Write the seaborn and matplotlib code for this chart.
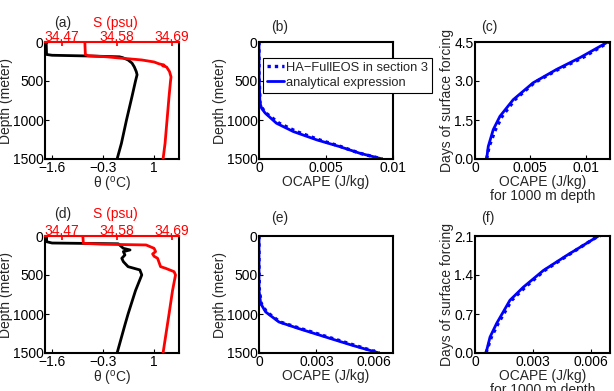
import numpy as np
import pandas as pd
import matplotlib
matplotlib.use("Agg")
import matplotlib.pyplot as plt
import seaborn as sns

# ---------------- data ----------------
# panel (a): profiles
a_theta_depth = [0, 5, 160, 170, 180, 190, 200, 230, 270, 320, 380, 420, 500, 700, 1000, 1300, 1500]
a_theta = [-1.72, -1.75, -1.74, -1.6, -0.6, 0.12, 0.2, 0.34, 0.44, 0.5, 0.55, 0.57, 0.53, 0.44, 0.3, 0.17, 0.06]
a_sal_depth = [0, 5, 160, 175, 190, 205, 230, 256, 280, 295, 305, 320, 380, 448, 500, 700, 1000, 1300, 1500]
a_sal = [34.516, 34.516, 34.517, 34.522, 34.56, 34.585, 34.63, 34.655, 34.665, 34.675, 34.672, 34.68, 34.686, 34.689, 34.688, 34.685, 34.681, 34.677, 34.673]

# panel (d): profiles
d_theta_depth = [0, 5, 73, 90, 100, 158, 179, 200, 243, 286, 329, 393, 435, 499, 700, 1000, 1139, 1500]
d_theta = [-1.72, -1.74, -1.74, -1.6, 0.09, 0.22, 0.39, 0.22, 0.26, 0.18, 0.22, 0.34, 0.64, 0.69, 0.53, 0.34, 0.26, 0.06]
d_sal_depth = [0, 5, 94, 105, 115, 158, 200, 230, 260, 286, 393, 414, 457, 499, 700, 1000, 1500]
d_sal = [34.512, 34.512, 34.513, 34.55, 34.639, 34.655, 34.658, 34.652, 34.655, 34.662, 34.668, 34.678, 34.695, 34.698, 34.692, 34.685, 34.673]

# panel (b): OCAPE vs depth
b_depth = [0, 400, 781, 850, 909, 1041, 1148, 1254, 1340, 1425, 1500]
b_ana = [0.0, 0.0, 0.00007, 0.0002, 0.00045, 0.0013, 0.00256, 0.0043, 0.006, 0.0075, 0.0092]
b_ha = [0.0, 0.0, 0.00008, 0.00025, 0.0005, 0.0015, 0.0028, 0.0045, 0.0061, 0.0075, 0.0092]

# panel (c): days vs OCAPE
c_days = [0.0, 0.485, 1.13, 1.64, 2.28, 2.93, 3.44, 3.89, 4.5]
c_ana = [0.00105, 0.0012, 0.00165, 0.00225, 0.00345, 0.00525, 0.00735, 0.00945, 0.0120]
c_ha = [0.00105, 0.00128, 0.00185, 0.00245, 0.0036, 0.00535, 0.0075, 0.0097, 0.0121]

# panel (e): OCAPE vs depth
e_depth = [0, 400, 696, 867, 974, 1102, 1188, 1295, 1401, 1500]
e_ana = [0.0, 0.0, 0.0, 0.00009, 0.00035, 0.00104, 0.00209, 0.00348, 0.00487, 0.00627]
e_ha = [0.0, 0.0, 0.00002, 0.00012, 0.0004, 0.0011, 0.0022, 0.0036, 0.0050, 0.0063]

# panel (f): days vs OCAPE
f_days = [0.0, 0.287, 0.53, 0.946, 1.18, 1.48, 1.75, 2.08, 2.1]
f_ana = [0.00057, 0.00078, 0.00112, 0.00181, 0.0025, 0.00354, 0.00475, 0.00631, 0.0064]
f_ha = [0.00057, 0.00085, 0.0012, 0.0019, 0.0026, 0.0036, 0.0048, 0.0063, 0.0065]

# ---------------- style ----------------
sns.set_theme(style="white")
plt.rcParams["font.family"] = ["Liberation Sans", "DejaVu Sans"]
plt.rcParams["mathtext.fontset"] = "custom"
plt.rcParams["mathtext.rm"] = "Liberation Sans"
plt.rcParams["xtick.direction"] = "in"
plt.rcParams["ytick.direction"] = "in"
plt.rcParams["xtick.major.size"] = 3
plt.rcParams["ytick.major.size"] = 3
plt.rcParams["xtick.major.pad"] = 1.5
plt.rcParams["ytick.major.pad"] = 1.0
FS = 10

W, H = 614, 391
fig = plt.figure(figsize=(W / 100, H / 100), dpi=100)


def box(l, t, r, b):
    return [l / W, 1 - b / H, (r - l) / W, (b - t) / H]


def style_axes(ax):
    for s in ax.spines.values():
        s.set_linewidth(1.5)
        s.set_color("black")
    ax.tick_params(labelsize=FS, length=3, width=0.8, colors="black")
    ax.tick_params(which="both", top=False, right=False, bottom=True, left=True)


def profile_panel(rect, th_d, th, s_d, s, label, lab_xy):
    ax = fig.add_axes(box(*rect))
    sns.lineplot(x=th, y=th_d, orient="y", sort=False, estimator=None,
                 color="black", lw=2.0, ax=ax)
    ax.set_xlim(-1.78, 1.64)
    ax.set_ylim(1500, 0)
    ax.set_xticks([-1.6, -0.3, 1])
    ax.set_xticklabels(["\u22121.6", "\u22120.3", "1"])
    ax.set_yticks([0, 500, 1000, 1500])
    ax.set_xlabel("\u03b8 ($^{\\rm o}$C)", fontsize=FS, labelpad=0)
    ax.set_ylabel("Depth (meter)", fontsize=FS, labelpad=0)
    style_axes(ax)
    ax2 = ax.twiny()
    sns.lineplot(x=s, y=s_d, orient="y", sort=False, estimator=None,
                 color="red", lw=2.0, ax=ax2)
    ax2.set_xlim(34.436, 34.705)
    ax2.set_ylim(1500, 0)
    ax2.set_xticks([34.47, 34.58, 34.69])
    ax2.set_xticklabels(["34.47", "34.58", "34.69"])
    ax2.tick_params(axis="x", colors="red", labelsize=FS, direction="in", length=3, pad=-1.5)
    ax2.set_xlabel("")
    ax2.set_ylabel("")
    for k in ["left", "right", "bottom"]:
        ax2.spines[k].set_visible(False)
    ax2.spines["top"].set_color("red")
    ax2.spines["top"].set_linewidth(1.5)
    ax.spines["top"].set_visible(False)
    fig.text(lab_xy[0] / W, 1 - lab_xy[1] / H, label, fontsize=FS, ha="center", va="center")
    fig.text((lab_xy[0] + 52) / W, 1 - lab_xy[1] / H, "S (psu)", fontsize=FS,
             ha="center", va="center", color="red")


def ocape_depth_panel(rect, d, ana, ha, xmax, xt, xtl, label, lab_xy, legend=False):
    ax = fig.add_axes(box(*rect))
    sns.lineplot(x=ha, y=d, orient="y", sort=False, estimator=None, color="blue",
                 lw=2.4, ls=(0, (1, 1.2)), ax=ax, label="HA\u2212FullEOS in section 3")
    sns.lineplot(x=ana, y=d, orient="y", sort=False, estimator=None, color="blue",
                 lw=2.0, ax=ax, label="analytical expression")
    ax.set_xlim(0, xmax)
    ax.set_ylim(1500, 0)
    ax.set_xticks(xt)
    ax.set_xticklabels(xtl)
    ax.set_yticks([0, 500, 1000, 1500])
    ax.set_xlabel("OCAPE (J/kg)", fontsize=FS, labelpad=0)
    ax.set_ylabel("Depth (meter)", fontsize=FS, labelpad=0)
    style_axes(ax)
    if legend:
        ax.set_zorder(10)
        leg = ax.legend(loc="upper left", bbox_to_anchor=(0.03, 0.865), fontsize=9.3,
                        frameon=True, fancybox=False, framealpha=1, borderpad=0.3,
                        handlelength=1.3, handletextpad=0.2, labelspacing=0.25,
                        borderaxespad=0)
        leg.get_frame().set_edgecolor("black")
        leg.get_frame().set_linewidth(0.8)
    else:
        ax.get_legend().remove()
    fig.text(lab_xy[0] / W, 1 - lab_xy[1] / H, label, fontsize=FS, ha="center", va="center")


def days_panel(rect, days, ana, ha, xmax, xt, xtl, ymax, yt, ytl, label, lab_xy):
    ax = fig.add_axes(box(*rect))
    sns.lineplot(x=ha, y=days, orient="y", sort=False, estimator=None, color="blue",
                 lw=2.4, ls=(0, (1, 1.2)), ax=ax)
    sns.lineplot(x=ana, y=days, orient="y", sort=False, estimator=None, color="blue",
                 lw=2.0, ax=ax)
    ax.set_xlim(0, xmax)
    ax.set_ylim(0, ymax)
    ax.set_xticks(xt)
    ax.set_xticklabels(xtl)
    ax.set_yticks(yt)
    ax.set_yticklabels(ytl)
    ax.set_xlabel("OCAPE (J/kg)\nfor 1000 m depth", fontsize=FS, labelpad=0, linespacing=1.0)
    ax.set_ylabel("Days of surface forcing", fontsize=FS, labelpad=0)
    style_axes(ax)
    fig.text(lab_xy[0] / W, 1 - lab_xy[1] / H, label, fontsize=FS, ha="center", va="center")


profile_panel((45, 42, 179, 159), a_theta_depth, a_theta, a_sal_depth, a_sal, "(a)", (63, 23))
profile_panel((45, 236, 179, 353), d_theta_depth, d_theta, d_sal_depth, d_sal, "(d)", (63, 214))

ocape_depth_panel((259, 42, 393, 159), b_depth, b_ana, b_ha, 0.01,
                  [0, 0.005, 0.01], ["0", "0.005", "0.01"], "(b)", (280, 27), legend=True)
ocape_depth_panel((259, 236, 393, 353), e_depth, e_ana, e_ha, 0.007,
                  [0, 0.003, 0.006], ["0", "0.003", "0.006"], "(e)", (280, 218))

days_panel((475, 42, 610, 159), c_days, c_ana, c_ha, 0.0122,
           [0, 0.005, 0.01], ["0", "0.005", "0.01"], 4.5, [0, 1.5, 3.0, 4.5],
           ["0.0", "1.5", "3.0", "4.5"], "(c)", (489, 27))
days_panel((475, 236, 610, 353), f_days, f_ana, f_ha, 0.007,
           [0, 0.003, 0.006], ["0", "0.003", "0.006"], 2.1, [0, 0.7, 1.4, 2.1],
           ["0.0", "0.7", "1.4", "2.1"], "(f)", (488, 218))

fig.savefig("out.png", dpi=100)
